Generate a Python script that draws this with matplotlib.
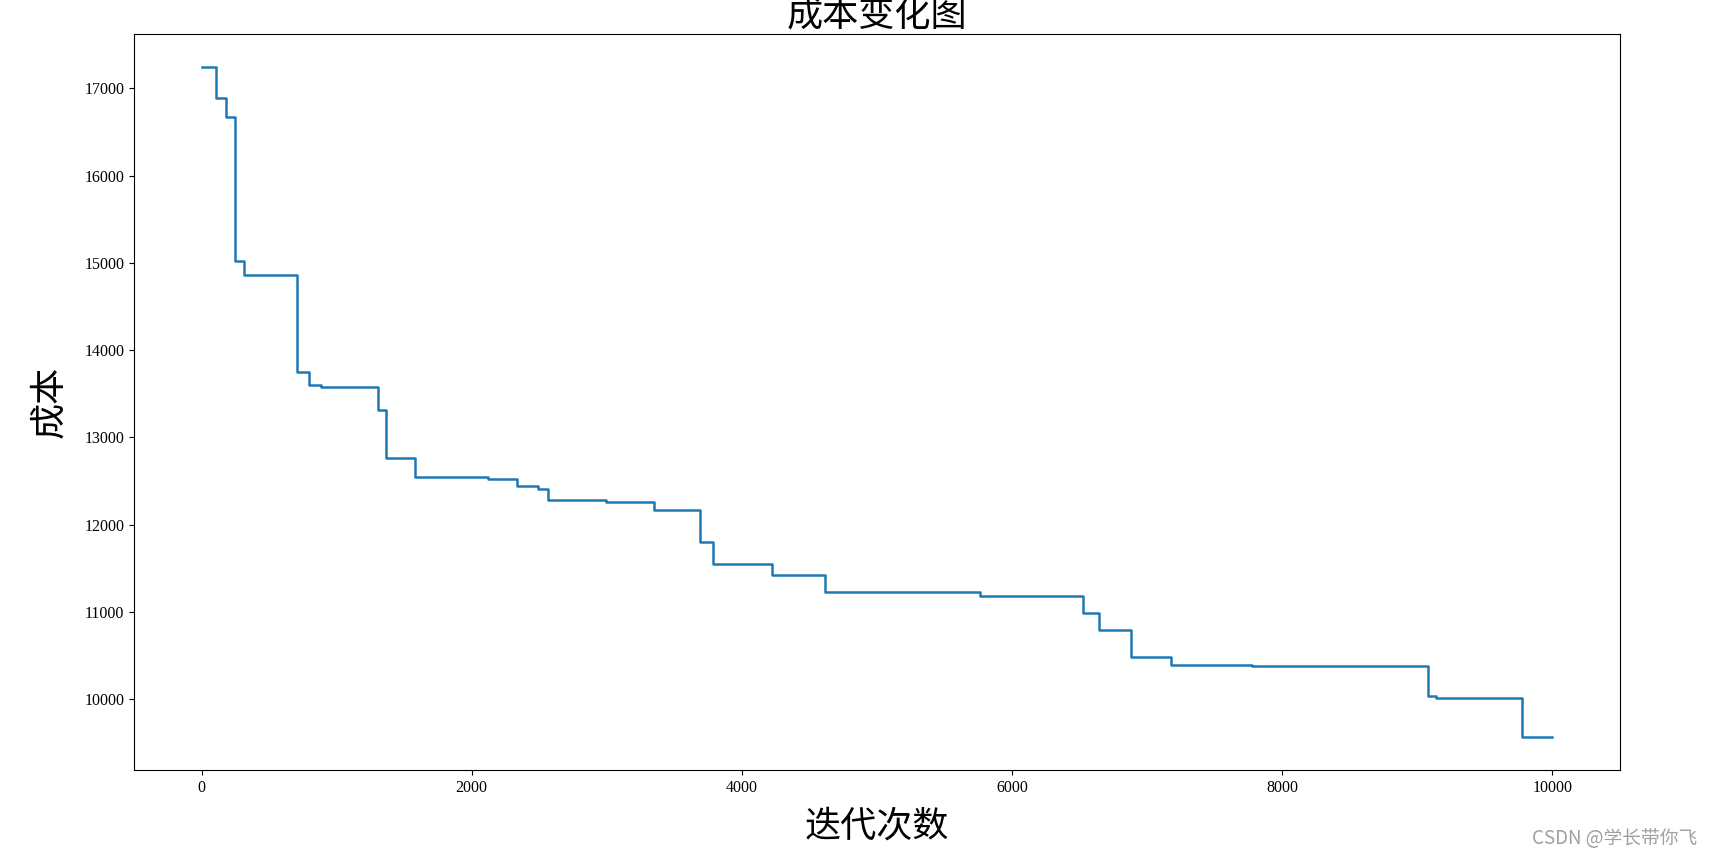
import numpy as np
import matplotlib
matplotlib.use('Agg')
import matplotlib.pyplot as plt

# 迭代次数 (where the best cost changes) and the cost level from there on
iteraciones = [0, 110, 181, 248, 315, 709, 798, 882, 1308, 1367, 1580, 2120,
               2336, 2488, 2561, 2995, 3347, 3687, 3783, 4223, 4615, 5763,
               6527, 6646, 6880, 7176, 7773, 9082, 9141, 9772, 10000]
costos = [17240, 16886, 16668, 15022, 14862, 13748, 13596, 13577, 13318, 12769,
          12541, 12528, 12441, 12404, 12281, 12255, 12167, 11805, 11550, 11420,
          11229, 11184, 10986, 10787, 10482, 10387, 10381, 10037, 10010, 9571,
          9571]

titulo = '成本变化图'
etiqueta_x = '迭代次数'
etiqueta_y = '成本'
marca = 'CSDN @学长带你飞'

cjk = ['Noto Sans CJK SC', 'DejaVu Sans']
plt.rcParams['font.family'] = ['Liberation Serif', 'DejaVu Serif']

fig = plt.figure(figsize=(17.11, 8.57), dpi=100)
ax = fig.add_axes([134 / 1711, 1 - 770 / 857, (1620 - 134) / 1711, (770 - 34) / 857])

ax.step(iteraciones, costos, where='post', color='#1f77b4', linewidth=1.8)

ax.set_title(titulo, fontsize=26, family=cjk, pad=1)
ax.set_xlabel(etiqueta_x, fontsize=26, family=cjk, labelpad=9)
ax.set_ylabel(etiqueta_y, fontsize=26, family=cjk, labelpad=12)
ax.tick_params(labelsize=11.5)

fig.text(1697 / 1711, 1 - 838 / 857, marca, fontsize=13.5, color='#a0a0a0',
         family=cjk, ha='right', va='center')

plt.savefig('out.png', dpi=100)
